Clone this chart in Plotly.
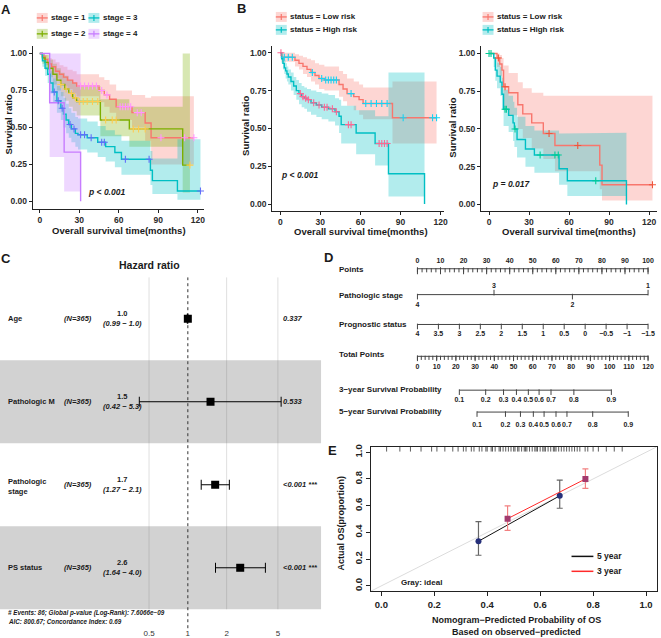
import plotly.graph_objects as go

W, H = 661, 638
FONT = "Liberation Sans, Arial, Helvetica, sans-serif"

def X(px): return px / W
def Y(py): return 1 - py / H
def dx(a, b): return [a / W, b / W]
def dy(top, bottom): return [1 - bottom / H, 1 - top / H]

RED, GREEN, CYAN, PURPLE = "#F8766D", "#7CAE00", "#00BFC4", "#C77CFF"

def rgba(hexc, a):
    h = hexc.lstrip('#')
    return f"rgba({int(h[0:2],16)},{int(h[2:4],16)},{int(h[4:6],16)},{a})"

# ---------------- Panel A : KM by stage ----------------
s1_t = [0, 2, 4, 6, 9, 12, 15, 18, 21, 25, 28, 45, 49, 53, 58, 70, 80, 84.5]
s1_s = [1.0, 0.98, 0.96, 0.93, 0.91, 0.88, 0.86, 0.84, 0.82, 0.80, 0.78, 0.75, 0.72, 0.69, 0.64, 0.60, 0.53, 0.43]
s1_lo = [1.0, 0.95, 0.92, 0.89, 0.86, 0.83, 0.80, 0.78, 0.76, 0.73, 0.71, 0.67, 0.64, 0.60, 0.55, 0.50, 0.41, 0.25]
s1_hi = [1.0, 1.0, 0.99, 0.97, 0.96, 0.94, 0.92, 0.91, 0.89, 0.88, 0.86, 0.84, 0.82, 0.79, 0.75, 0.72, 0.70, 0.71]
s1_end = 117
s1_cens = [31, 34, 37, 40, 43, 47, 51, 61, 63, 65, 67, 69, 74, 77, 92, 110, 117]

s2_t = [0, 2, 4, 7, 10, 13, 16, 19, 22, 25, 28, 46, 68, 108.5]
s2_s = [1.0, 0.97, 0.94, 0.90, 0.86, 0.82, 0.79, 0.76, 0.73, 0.70, 0.675, 0.55, 0.49, 0.245]
s2_lo = [1.0, 0.93, 0.89, 0.84, 0.79, 0.75, 0.71, 0.68, 0.64, 0.61, 0.58, 0.44, 0.37, 0.06]
s2_hi = [1.0, 1.0, 0.99, 0.96, 0.93, 0.90, 0.87, 0.85, 0.82, 0.80, 0.78, 0.69, 0.64, 1.0]
s2_end = 114
s2_cens = [16, 20, 24, 27, 30, 33, 36, 40, 44, 50, 55, 58, 71, 75, 80, 114]

s3_t = [0, 2, 4, 6, 8, 10, 13, 16, 18, 20, 22, 24, 27, 29, 36, 44, 50, 57, 62, 84, 85.5, 104.5]
s3_s = [1.0, 0.95, 0.90, 0.86, 0.80, 0.74, 0.68, 0.63, 0.59, 0.55, 0.52, 0.49, 0.46, 0.45, 0.43, 0.40, 0.37, 0.33, 0.285, 0.21, 0.14, 0.07]
s3_lo = [1.0, 0.91, 0.85, 0.80, 0.73, 0.67, 0.60, 0.55, 0.50, 0.46, 0.43, 0.40, 0.37, 0.35, 0.33, 0.30, 0.27, 0.23, 0.18, 0.11, 0.05, 0.01]
s3_hi = [1.0, 0.99, 0.96, 0.93, 0.88, 0.83, 0.78, 0.74, 0.70, 0.66, 0.63, 0.60, 0.57, 0.56, 0.54, 0.51, 0.48, 0.45, 0.41, 0.34, 0.29, 0.42]
s3_end = 122
s3_cens = [11, 14, 17, 23, 26, 31, 34, 39, 47, 49, 65, 83, 122]

s4_t = [0, 7.5, 18.5, 31]
s4_s = [1.0, 0.667, 0.333, 0.0]
s4_lo = [1.0, 0.30, 0.067, 0.0]
s4_hi = [1.0, 1.0, 1.0, 0.0]
s4_end = 31
s4_cens = []

# ---------------- Panel B (left) ----------------
bl_low_t = [0, 1, 11, 14, 17, 20, 23, 26, 29, 33, 44, 47, 50, 55, 59, 62, 84]
bl_low_s = [1.0, 0.97, 0.95, 0.93, 0.91, 0.89, 0.87, 0.85, 0.83, 0.82, 0.79, 0.76, 0.73, 0.71, 0.69, 0.665, 0.57]
bl_low_lo = [1.0, 0.94, 0.91, 0.89, 0.86, 0.84, 0.81, 0.79, 0.76, 0.75, 0.71, 0.68, 0.65, 0.62, 0.59, 0.56, 0.40]
bl_low_hi = [1.0, 1.0, 0.99, 0.98, 0.97, 0.96, 0.95, 0.93, 0.92, 0.91, 0.88, 0.86, 0.83, 0.81, 0.79, 0.77, 0.81]
bl_low_end = 117
bl_low_cens = [3, 6, 9, 24, 31, 34, 36, 38, 40, 42, 53, 64, 68, 72, 76, 80, 92, 114, 117]

bl_high_t = [0, 1, 2, 3, 4, 5, 6, 8, 10, 12, 14, 16, 18, 20, 23, 27, 31, 36, 41, 44, 45.6, 56.8, 71, 81, 108]
bl_high_s = [1.0, 0.96, 0.93, 0.90, 0.88, 0.86, 0.84, 0.81, 0.78, 0.75, 0.73, 0.71, 0.70, 0.69, 0.67, 0.655, 0.64, 0.63, 0.61, 0.58, 0.525, 0.47, 0.40, 0.20, 0.0]
bl_high_lo = [1.0, 0.93, 0.89, 0.86, 0.83, 0.81, 0.79, 0.75, 0.72, 0.69, 0.66, 0.64, 0.63, 0.61, 0.59, 0.575, 0.56, 0.545, 0.52, 0.47, 0.40, 0.33, 0.255, 0.05, 0.0]
bl_high_hi = [1.0, 0.99, 0.97, 0.95, 0.93, 0.91, 0.89, 0.87, 0.84, 0.82, 0.80, 0.78, 0.77, 0.76, 0.75, 0.74, 0.73, 0.72, 0.70, 0.69, 0.65, 0.62, 0.58, 0.87, 0.0]
bl_high_end = 108
bl_high_cens = [0.5, 15, 17, 19, 21, 25, 29, 33, 35, 39, 42, 51, 53, 74, 76, 78, 80]

# ---------------- Panel B (right) ----------------
br_low_t = [0, 6, 8, 9.7, 10.9, 14.7, 21.6, 25.3, 32, 40.7, 49.4, 83, 84.7]
br_low_s = [1.0, 0.97, 0.93, 0.89, 0.78, 0.74, 0.66, 0.60, 0.54, 0.47, 0.39, 0.26, 0.13]
br_low_lo = [1.0, 0.91, 0.85, 0.79, 0.64, 0.59, 0.50, 0.44, 0.37, 0.30, 0.22, 0.10, 0.025]
br_low_hi = [1.0, 1.0, 0.99, 0.97, 0.92, 0.87, 0.81, 0.77, 0.74, 0.72, 0.72, 0.72, 0.72]
br_low_end = 122.5
br_low_cens = [7, 12, 45, 66.5, 122.5]

br_high_t = [0, 3.5, 4.7, 6, 8.4, 9.7, 10.9, 14.7, 18, 19, 21, 27.3, 34, 52.5, 58.7, 103]
br_high_s = [1.0, 0.97, 0.89, 0.85, 0.81, 0.73, 0.63, 0.59, 0.54, 0.50, 0.43, 0.367, 0.327, 0.236, 0.157, 0.0]
br_high_lo = [1.0, 0.91, 0.82, 0.77, 0.72, 0.63, 0.52, 0.48, 0.42, 0.38, 0.31, 0.25, 0.21, 0.13, 0.055, 0.0]
br_high_hi = [1.0, 1.0, 0.97, 0.94, 0.91, 0.84, 0.76, 0.72, 0.68, 0.64, 0.58, 0.52, 0.49, 0.47, 0.475, 0.0]
br_high_end = 103
br_high_cens = [0, 1.5, 12, 13, 19.5, 38.3, 49.4, 51.9, 80]

km_xticks = [0, 30, 60, 90, 120]
km_yticks = [0, 0.25, 0.5, 0.75, 1.0]
km_yticktext = ["0.00", "0.25", "0.50", "0.75", "1.00"]

# ---------------- Panel C : forest ----------------
fp_vars = ["Age", "Pathologic M", "Pathologic<br>stage", "PS status"]
fp_n = ["(N=365)", "(N=365)", "(N=365)", "(N=365)"]
fp_hr = [1.0, 1.5, 1.63, 2.55]
fp_lo = [0.99, 0.42, 1.27, 1.64]
fp_hi = [1.0, 5.3, 2.1, 4.0]
fp_hr_txt = ["1.0", "1.5", "1.7", "2.6"]
fp_ci_txt = ["(0.99 − 1.0)", "(0.42 − 5.3)", "(1.27 − 2.1)", "(1.64 − 4.0)"]
fp_p = ["0.337", "0.533", "&lt;0.001 ***", "&lt;0.001 ***"]
fp_ticks = [0.5, 1, 2, 5]
fp_foot = ["# Events: 86; Global p-value (Log-Rank): 7.6066e−09",
           "AIC: 800.67; Concordance Index: 0.69"]

# ---------------- Panel D : nomogram ----------------
nomo_points_ticks = [0, 10, 20, 30, 40, 50, 60, 70, 80, 90, 100]
stage_levels = ["1", "2", "3", "4"]
stage_points = [100, 67.2, 33.2, 0]
stage_above = [True, False, True, False]
prog_ticks = [4, 3.5, 3, 2.5, 2, 1.5, 1, 0.5, 0, -0.5, -1, -1.5]
prog_text = ["4", "3.5", "3", "2.5", "2", "1.5", "1", "0.5", "0", "−0.5", "−1", "−1.5"]
total_ticks = [0, 10, 20, 30, 40, 50, 60, 70, 80, 90, 100, 110, 120]
surv_probs = ["0.1", "0.2", "0.3", "0.4", "0.5", "0.6", "0.7", "0.8", "0.9"]
surv3_total = [21.8, 35.5, 44.8, 51.5, 57.7, 63.3, 69.5, 81.4, 100.9]
surv5_total = [31.0, 45.8, 53.6, 60.3, 65.9, 72.1, 77.8, 91.2, 109.7]
nomo_rows = ["Points", "Pathologic stage", "Prognostic status", "Total Points",
             "3−year Survival Probability", "5−year Survival Probability"]

# ---------------- Panel E : calibration ----------------
five_pred = [0.367, 0.674]
five_obs = [0.334, 0.674]
five_lo = [0.229, 0.581]
five_hi = [0.481, 0.792]
three_pred = [0.477, 0.771]
three_obs = [0.503, 0.800]
three_lo = [0.415, 0.730]
three_hi = [0.598, 0.875]
rug_pred = [0.02, 0.07, 0.11, 0.15, 0.19, 0.21, 0.24, 0.27, 0.29, 0.31, 0.32, 0.34, 0.35,
            0.37, 0.38, 0.395, 0.40, 0.415, 0.42, 0.43, 0.445, 0.45, 0.46, 0.47, 0.48, 0.49,
            0.50, 0.505, 0.515, 0.52, 0.53, 0.54, 0.545, 0.55, 0.56, 0.57, 0.58, 0.585,
            0.59, 0.60, 0.61, 0.615, 0.62, 0.63, 0.64, 0.65, 0.655, 0.66, 0.67, 0.68, 0.69,
            0.70, 0.71, 0.72, 0.73, 0.74, 0.75, 0.77, 0.78, 0.80, 0.82, 0.85, 0.88, 0.91]
e_ticks = [0, 0.2, 0.4, 0.6, 0.8, 1.0]
e_ticktext = ["0.0", "0.2", "0.4", "0.6", "0.8", "1.0"]

# =====================================================================
fig = go.Figure()
annotations = []
shapes = []

def fnt(size, bold=True, italic=False, color="#1a1a1a"):
    return dict(family=FONT, size=size, color=color,
                weight="bold" if bold else "normal",
                style="italic" if italic else "normal")

def ann(text, px, py, size, bold=True, italic=False, color="#1a1a1a",
        xanchor="center", yanchor="middle", angle=0, align="center"):
    annotations.append(dict(text=text, x=X(px), y=Y(py), xref="paper", yref="paper",
                            showarrow=False, font=fnt(size, bold, italic, color),
                            xanchor=xanchor, yanchor=yanchor, textangle=angle,
                            align=align, borderpad=0))

def step_xy(t, v, end):
    xs, ys = [], []
    for i in range(len(t)):
        x1 = t[i + 1] if i + 1 < len(t) else end
        xs += [t[i], x1]
        ys += [v[i], v[i]]
    return xs, ys

def surv_at(t, s, tc):
    val = s[0]
    for ti, si in zip(t, s):
        if ti <= tc:
            val = si
    return val

def km_group(curves, xa, ya):
    for (t, s, lo, hi, end, cens, col) in curves:
        ux, uy = step_xy(t, hi, end)
        lx, ly = step_xy(t, lo, end)
        fig.add_trace(go.Scatter(x=ux + lx[::-1], y=uy + ly[::-1], fill="toself",
                                 fillcolor=rgba(col, 0.3), line=dict(width=0),
                                 mode="lines", xaxis=xa, yaxis=ya, hoverinfo="skip",
                                 showlegend=False))
    for (t, s, lo, hi, end, cens, col) in curves:
        fig.add_trace(go.Scatter(x=list(t) + [end], y=list(s) + [s[-1]], mode="lines",
                                 line=dict(color=col, width=1.4, shape="hv"),
                                 xaxis=xa, yaxis=ya, showlegend=False))
    for (t, s, lo, hi, end, cens, col) in curves:
        if cens:
            fig.add_trace(go.Scatter(x=cens, y=[surv_at(t, s, c) for c in cens],
                                     mode="markers", cliponaxis=False,
                                     marker=dict(symbol="cross-thin-open", size=5,
                                                 line=dict(color=col, width=1.1)),
                                     xaxis=xa, yaxis=ya, showlegend=False))

km_group([
    (s1_t, s1_s, s1_lo, s1_hi, s1_end, s1_cens, RED),
    (s2_t, s2_s, s2_lo, s2_hi, s2_end, s2_cens, GREEN),
    (s3_t, s3_s, s3_lo, s3_hi, s3_end, s3_cens, CYAN),
    (s4_t, s4_s, s4_lo, s4_hi, s4_end, s4_cens, PURPLE),
], "x", "y")
km_group([
    (bl_low_t, bl_low_s, bl_low_lo, bl_low_hi, bl_low_end, bl_low_cens, RED),
    (bl_high_t, bl_high_s, bl_high_lo, bl_high_hi, bl_high_end, bl_high_cens, CYAN),
], "x2", "y2")
km_group([
    (br_low_t, br_low_s, br_low_lo, br_low_hi, br_low_end, br_low_cens, RED),
    (br_high_t, br_high_s, br_high_lo, br_high_hi, br_high_end, br_high_cens, CYAN),
], "x3", "y3")

# ---------- forest plot ----------
for i in range(len(fp_vars)):
    if i % 2 == 1:
        shapes.append(dict(type="rect", xref="x4 domain", yref="y4", x0=0, x1=1,
                           y0=i - 0.5, y1=i + 0.5, fillcolor="#d2d2d2",
                           line=dict(width=0), layer="below"))
for g in [0.5, 2, 5]:
    fig.add_trace(go.Scatter(x=[g, g], y=[-0.5, 3.5], mode="lines",
                             line=dict(color="rgba(110,110,110,0.22)", width=1),
                             xaxis="x4", yaxis="y4", showlegend=False, hoverinfo="skip"))
fig.add_trace(go.Scatter(x=[1, 1], y=[-0.5, 3.75], mode="lines",
                         line=dict(color="#333", width=1, dash="dot"),
                         xaxis="x4", yaxis="y4", showlegend=False, hoverinfo="skip"))
fig.add_trace(go.Scatter(
    x=fp_hr, y=list(range(len(fp_hr))), mode="markers",
    marker=dict(symbol="square", size=8, color="#000"),
    error_x=dict(type="data", symmetric=False,
                 array=[h - e for h, e in zip(fp_hi, fp_hr)],
                 arrayminus=[e - l for e, l in zip(fp_hr, fp_lo)],
                 color="#000", thickness=1, width=5),
    xaxis="x4", yaxis="y4", showlegend=False))

fp_row_py = [317, 400, 484, 567]
for i in range(len(fp_vars)):
    py = fp_row_py[i]
    ann(fp_vars[i], 7, py + (2 if "<br>" in fp_vars[i] else 0), 7.5, xanchor="left", align="left")
    ann(fp_n[i], 78, py, 7.5, italic=True)
    ann(fp_hr_txt[i] + "<br><i>" + fp_ci_txt[i] + "</i>", 123, py, 7.5)
    ann(fp_p[i], 284, py, 7.5, italic=True, xanchor="left")
ann(fp_foot[0], 7, 613, 6.3, italic=True, xanchor="left")
ann(fp_foot[1], 7, 622, 6.3, italic=True, xanchor="left")
ann("Hazard ratio", 150, 263, 10.5)

# ---------- nomogram ----------
ROW = {"points": 267, "stage": 293, "prog": 323, "total": 355, "y3": 389, "y5": 411}
LINE_C = "#444"
TICK_F = fnt(7, True, False, "#222")

def nomo_line(x0, x1, yrow):
    fig.add_trace(go.Scatter(x=[x0, x1], y=[yrow, yrow], mode="lines",
                             line=dict(color=LINE_C, width=1), xaxis="x5", yaxis="y5",
                             showlegend=False, hoverinfo="skip"))

def nomo_ticks(xs, yc, size):
    fig.add_trace(go.Scatter(x=xs, y=[yc] * len(xs), mode="markers", cliponaxis=False,
                             marker=dict(symbol="line-ns", size=size,
                                         line=dict(color=LINE_C, width=1)),
                             xaxis="x5", yaxis="y5", showlegend=False, hoverinfo="skip"))

def nomo_text(xs, yc, texts):
    fig.add_trace(go.Scatter(x=xs, y=[yc] * len(xs), mode="text", text=texts,
                             textfont=TICK_F, textposition="middle center", cliponaxis=False,
                             xaxis="x5", yaxis="y5", showlegend=False, hoverinfo="skip"))

# Points
nomo_line(0, 100, ROW["points"])
nomo_ticks(list(range(0, 101, 2)), ROW["points"] + 1.5, 3)
nomo_ticks(nomo_points_ticks, ROW["points"] + 2, 5)
nomo_text(nomo_points_ticks, ROW["points"] - 8, [str(v) for v in nomo_points_ticks])
# Pathologic stage
nomo_line(0, 100, ROW["stage"])
up = [p for p, a in zip(stage_points, stage_above) if a]
dn = [p for p, a in zip(stage_points, stage_above) if not a]
nomo_ticks(up, ROW["stage"] - 2, 4)
nomo_ticks(dn, ROW["stage"] + 2, 4)
nomo_text(up, ROW["stage"] - 8, [l for l, a in zip(stage_levels, stage_above) if a])
nomo_text(dn, ROW["stage"] + 11, [l for l, a in zip(stage_levels, stage_above) if not a])
# Prognostic status
prog_pts = [(prog_ticks[0] - v) / (prog_ticks[0] - prog_ticks[-1]) * 100 for v in prog_ticks]
nomo_line(0, 100, ROW["prog"])
nomo_ticks(prog_pts, ROW["prog"] + 2, 4)
nomo_text(prog_pts, ROW["prog"] + 10, prog_text)
# Total points
tp = lambda v: v * 100 / total_ticks[-1]
nomo_line(0, 100, ROW["total"])
nomo_ticks([tp(v) for v in range(0, 121, 2)], ROW["total"] + 1.5, 3)
nomo_ticks([tp(v) for v in total_ticks], ROW["total"] + 2, 4)
nomo_text([tp(v) for v in total_ticks], ROW["total"] + 11, [str(v) for v in total_ticks])
# 3-year / 5-year
for key, vals in (("y3", surv3_total), ("y5", surv5_total)):
    xs = [tp(v) for v in vals]
    nomo_line(xs[0], xs[-1], ROW[key])
    nomo_ticks(xs, ROW[key] + 2, 4)
    nomo_text(xs, ROW[key] + (10 if key == "y3" else 13), surv_probs)

nomo_label_py = [268, 294, 323, 353, 388, 410]
for lab, py in zip(nomo_rows, nomo_label_py):
    ann(lab, 340, py, 8, xanchor="left")

# ---------- calibration ----------
fig.add_trace(go.Scatter(x=[-0.04, 1.04], y=[-0.04, 1.04], mode="lines",
                         line=dict(color="#dcdcdc", width=1), xaxis="x6", yaxis="y6",
                         showlegend=False, hoverinfo="skip"))
fig.add_trace(go.Scatter(x=rug_pred, y=[1.04 - 0.014] * len(rug_pred), mode="markers",
                         cliponaxis=False,
                         marker=dict(symbol="line-ns", size=4, line=dict(color="#333", width=0.8)),
                         xaxis="x6", yaxis="y6", showlegend=False, hoverinfo="skip"))
fig.add_trace(go.Scatter(x=five_pred, y=five_obs, mode="lines+markers",
                         line=dict(color="#111", width=1),
                         marker=dict(symbol="circle", size=6, color="#26307a"),
                         error_y=dict(type="data", symmetric=False,
                                      array=[h - o for h, o in zip(five_hi, five_obs)],
                                      arrayminus=[o - l for o, l in zip(five_obs, five_lo)],
                                      color="#666", thickness=1.2, width=3),
                         xaxis="x6", yaxis="y6", showlegend=False))
fig.add_trace(go.Scatter(x=three_pred, y=three_obs, mode="lines+markers",
                         line=dict(color="#ff2a2a", width=1),
                         marker=dict(symbol="square", size=6, color="#a33a6e"),
                         error_y=dict(type="data", symmetric=False,
                                      array=[h - o for h, o in zip(three_hi, three_obs)],
                                      arrayminus=[o - l for o, l in zip(three_obs, three_lo)],
                                      color="#f28080", thickness=1.2, width=3),
                         xaxis="x6", yaxis="y6", showlegend=False))
shapes.append(dict(type="line", xref="paper", yref="paper", x0=X(575), x1=X(597),
                   y0=Y(556), y1=Y(556), line=dict(color="#111", width=1.5)))
shapes.append(dict(type="line", xref="paper", yref="paper", x0=X(575), x1=X(597),
                   y0=Y(571), y1=Y(571), line=dict(color="#ff2a2a", width=1.5)))
ann("5 year", 600, 556, 8.5, xanchor="left")
ann("3 year", 600, 571, 8.5, xanchor="left")
ann("Gray: ideal", 402, 582, 8, xanchor="left")
ann("Actual OS(proportion)", 343, 522, 9, angle=-90)
ann("Nomogram−Predicted Probability of OS", 520, 620, 9)
ann("Based on observed−predicted", 520, 632, 9)

# ---------- legends (A, B) ----------
def legend_key(cx, cy, col, label):
    shapes.append(dict(type="rect", xref="paper", yref="paper",
                       x0=X(cx - 5.5), x1=X(cx + 5.5), y0=Y(cy + 5), y1=Y(cy - 5),
                       fillcolor=rgba(col, 0.3), line=dict(width=0)))
    shapes.append(dict(type="line", xref="paper", yref="paper",
                       x0=X(cx - 5.5), x1=X(cx + 5.5), y0=Y(cy), y1=Y(cy),
                       line=dict(color=col, width=1.3)))
    shapes.append(dict(type="line", xref="paper", yref="paper",
                       x0=X(cx), x1=X(cx), y0=Y(cy - 3), y1=Y(cy + 3),
                       line=dict(color=col, width=1.2)))
    ann(label, cx + 8, cy, 8, xanchor="left")

legend_key(42.5, 15, RED, "stage = 1")
legend_key(94.5, 15, CYAN, "stage = 3")
legend_key(42.5, 31, GREEN, "stage = 2")
legend_key(94.5, 31, PURPLE, "stage = 4")
legend_key(283, 14, RED, "status = Low risk")
legend_key(283, 27, CYAN, "status = High risk")
legend_key(491, 14, RED, "status = Low risk")
legend_key(491, 27, CYAN, "status = High risk")

# p-values and axis titles for KM
ann("p &lt; 0.001", 88, 190, 8.5, italic=True, xanchor="left")
ann("p &lt; 0.001", 282, 173, 8.5, italic=True, xanchor="left")
ann("p = 0.017", 494, 182, 8.5, italic=True, xanchor="left")
for cx, cy in ((120, 229), (363, 230), (572, 230)):
    ann("Overall survival time(months)", cx, cy, 9.5)
ann("Survival ratio", 8, 122, 9.5, angle=-90)
ann("Survival ratio", 247, 124, 9.5, angle=-90)
ann("Survival ratio", 455, 125, 9.5, angle=-90)

# panel letters
for lab, px, py in (("A", 6, 7), ("B", 243, 6), ("C", 6, 257), ("D", 331, 256), ("E", 335, 450)):
    ann(lab, px, py, 13)

# ---------- layout ----------
km_ax = dict(showline=True, linecolor="#222", linewidth=1.1, ticks="outside", ticklen=3,
             tickwidth=1, tickcolor="#222", showgrid=False, zeroline=False,
             tickfont=fnt(8.5, True, False, "#2b2b2b"))
kmx = dict(km_ax, tickvals=km_xticks, ticktext=[str(v) for v in km_xticks])
kmy = dict(km_ax, tickvals=km_yticks, ticktext=km_yticktext)

e_ax = dict(showline=True, mirror=True, linecolor="#222", linewidth=1, ticks="outside",
            ticklen=4, tickcolor="#222", showgrid=False, zeroline=False,
            tickvals=e_ticks, ticktext=e_ticktext, range=[-0.04, 1.04],
            tickfont=fnt(9.5, True, False, "#222"))

fig.update_layout(
    width=W, height=H, margin=dict(l=0, r=0, t=0, b=0),
    paper_bgcolor="white", plot_bgcolor="rgba(0,0,0,0)", showlegend=False,
    xaxis=dict(kmx, domain=dx(33, 205), range=[-5.3, 124.5], anchor="y"),
    yaxis=dict(kmy, domain=dy(43, 207), range=[-0.052, 1.052], anchor="x"),
    xaxis2=dict(kmx, domain=dx(274, 447), range=[-5.95, 122.8], anchor="y2"),
    yaxis2=dict(kmy, domain=dy(43, 209), range=[-0.046, 1.046], anchor="x2"),
    xaxis3=dict(kmx, domain=dx(484, 661), range=[-5.96, 125.9], anchor="y3"),
    yaxis3=dict(kmy, domain=dy(43, 209), range=[-0.044, 1.051], anchor="x3"),
    xaxis4=dict(type="log", domain=dx(0, 323), range=[-1.458, 1.034], anchor="free",
                position=Y(627), showline=False, ticks="", showgrid=False, zeroline=False,
                tickvals=fp_ticks, ticktext=[str(v) for v in fp_ticks],
                tickfont=fnt(8, False, False, "#333")),
    yaxis4=dict(domain=dy(275.5, 630), range=[3.75, -0.5], visible=False, anchor="x4"),
    xaxis5=dict(domain=dx(330, 661), range=[-38.79, 103.88], visible=False, anchor="y5"),
    yaxis5=dict(domain=dy(245, 435), range=[435, 245], visible=False, anchor="x5"),
    xaxis6=dict(e_ax, domain=dx(373, 660.6), anchor="y6"),
    yaxis6=dict(e_ax, domain=dy(446, 591), anchor="x6", tickangle=-90),
    annotations=annotations, shapes=shapes,
)

fig.write_html("out.html", config={"displayModeBar": False},
               post_script="document.body.style.margin='0px';document.body.style.padding='0px';")
